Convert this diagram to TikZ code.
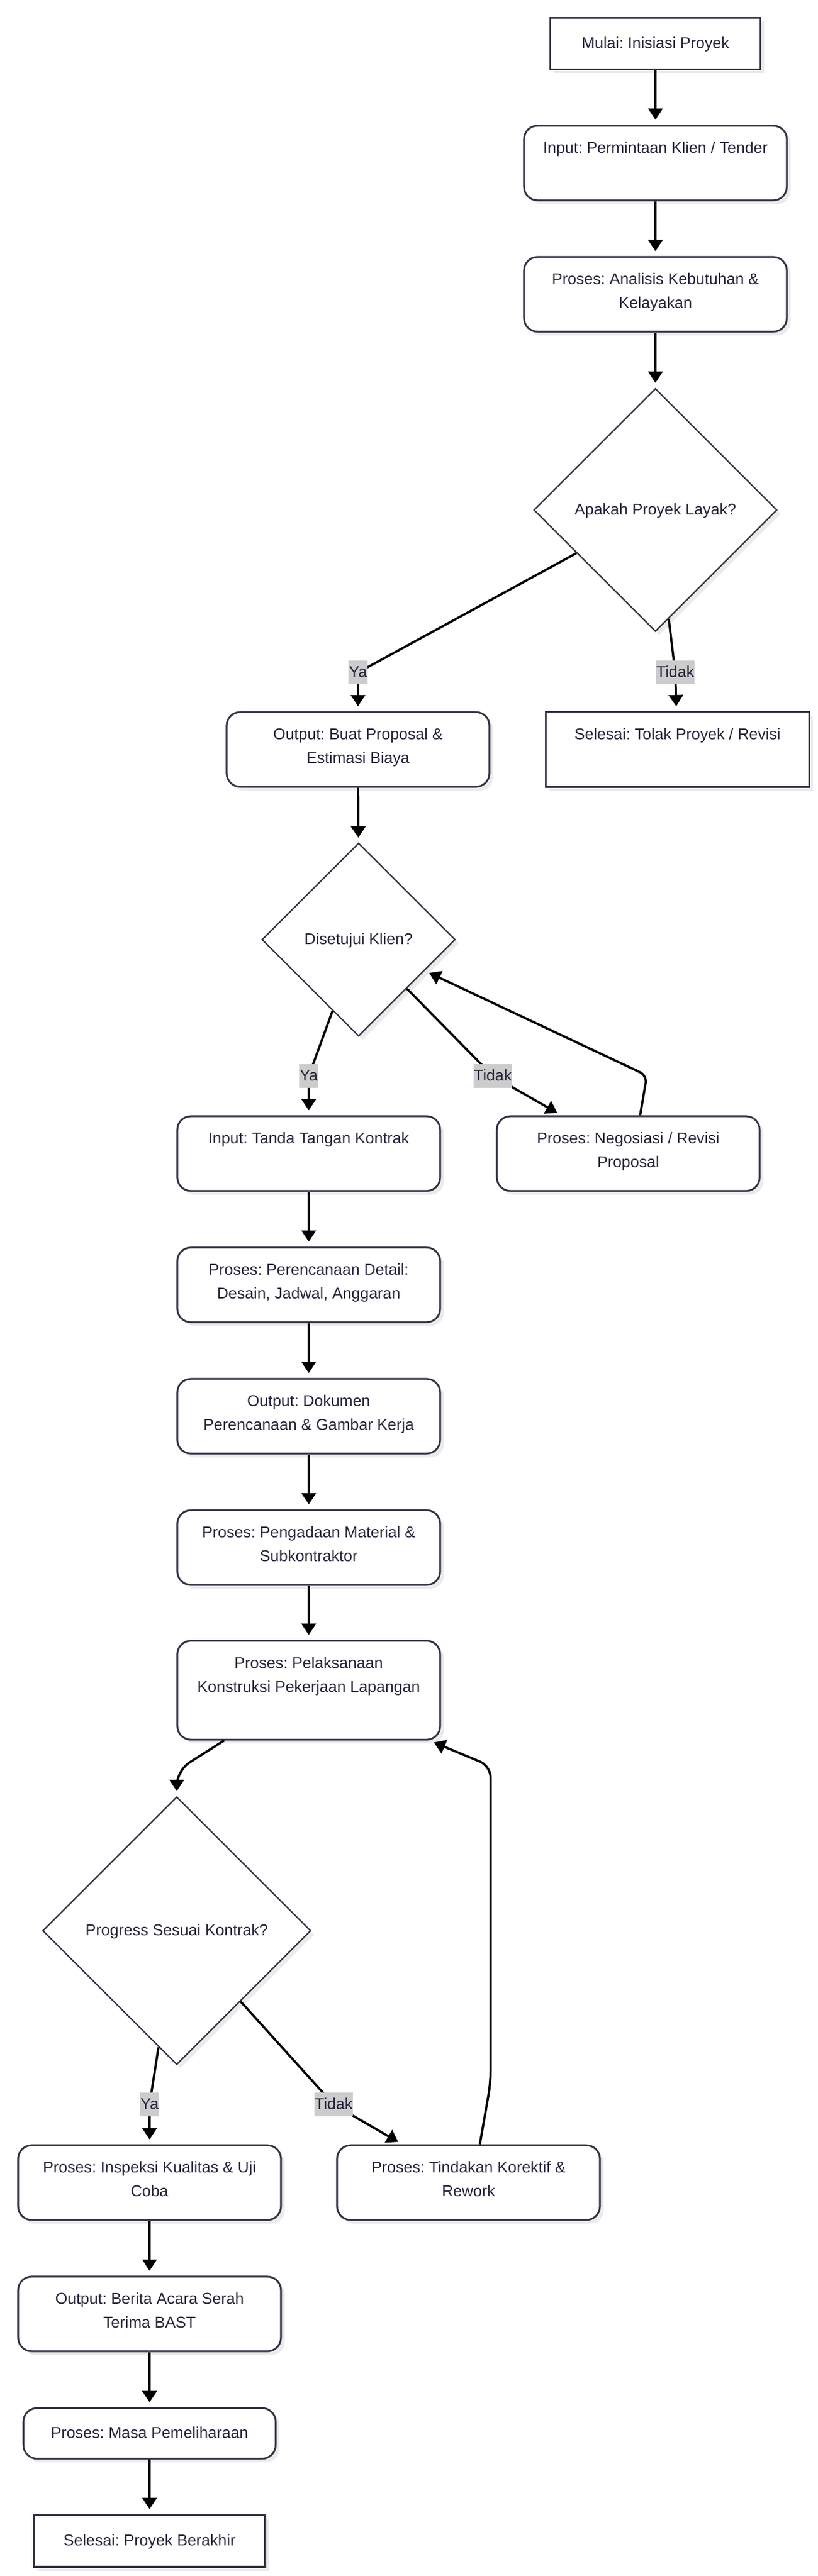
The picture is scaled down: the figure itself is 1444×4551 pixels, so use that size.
\documentclass[tikz,border=0pt]{standalone}
\usepackage{fontspec}
\setmainfont{Liberation Sans}
\usetikzlibrary{shapes.geometric,arrows.meta,shadows}
\definecolor{inkc}{RGB}{38,38,60}
\definecolor{edgec}{RGB}{51,51,70}
\definecolor{lblgray}{RGB}{204,204,204}
\frenchspacing

\begin{document}
\begin{tikzpicture}[x=0.75pt,y=0.75pt,yscale=-1,xscale=1,
    every node/.style={font=\fontsize{20.8pt}{31.5pt}\selectfont, text=inkc},
    boxshadow/.style={drop shadow={shadow xshift=5pt,shadow yshift=-5pt,fill=black!8,opacity=1}},
    termbox/.style={draw=edgec, line width=2.4pt, fill=white, align=center, inner sep=0pt,
        execute at begin node=\strut, execute at end node=\strut, boxshadow},
    procbox/.style={termbox, rounded corners=18pt, minimum width=348pt, minimum height=99pt},
    decide/.style={diamond, draw=edgec, line width=1.9pt, fill=white, inner sep=0pt,
        minimum width=#1, minimum height=#1, execute at begin node=\strut, boxshadow},
    lbl/.style={fill=lblgray, inner xsep=0.5pt, inner ysep=0pt, execute at begin node=\strut},
    arr/.style={draw=black, line width=3pt, -{Triangle[width=19pt,length=15pt]}, shorten >=6.5pt}]
        \useasboundingbox (0,0) rectangle (1444,4551);

        %Shape: top column
        \node[termbox, minimum width=278pt, minimum height=68pt] (start) at (1157,77) {Mulai: Inisiasi Proyek};
        \node[procbox] (input) at (1157,288) {Input: Permintaan Klien / Tender\\~};
        \node[procbox] (analisis) at (1157,520) {Proses: Analisis Kebutuhan \&\\Kelayakan};
        \node[decide=322pt] (layak) at (1157,901) {Apakah Proyek Layak?};
        \node[procbox] (proposal) at (632,1324) {Output: Buat Proposal \&\\Estimasi Biaya};
        \node[termbox, minimum width=349pt, minimum height=99pt] (tolak) at (1196,1324) {Selesai: Tolak Proyek / Revisi\\~};

        %Shape: approval loop
        \node[decide=256pt] (klien) at (633,1660) {Disetujui Klien?};
        \node[procbox] (kontrak) at (545,2038) {Input: Tanda Tangan Kontrak\\~};
        \node[procbox] (negosiasi) at (1109,2038) {Proses: Negosiasi / Revisi\\Proposal};
        \node[procbox] (perencanaan) at (545,2270) {Proses: Perencanaan Detail:\\Desain, Jadwal, Anggaran};
        \node[procbox] (dokumen) at (545,2502) {Output: Dokumen\\Perencanaan \& Gambar Kerja};
        \node[procbox] (pengadaan) at (545,2734) {Proses: Pengadaan Material \&\\Subkontraktor};
        \node[procbox, minimum height=131pt] (pelaksanaan) at (545,2986) {Proses: Pelaksanaan\\Konstruksi Pekerjaan Lapangan\\~};

        %Shape: progress loop
        \node[decide=355pt] (progress) at (312,3411) {Progress Sesuai Kontrak?};
        \node[procbox] (inspeksi) at (264,3856) {Proses: Inspeksi Kualitas \& Uji\\Coba};
        \node[procbox] (tindakan) at (827,3856) {Proses: Tindakan Korektif \&\\Rework};
        \node[procbox] (bast) at (264,4088) {Output: Berita Acara Serah\\Terima BAST};
        \node[procbox, minimum width=334pt, minimum height=67pt] (pelihara) at (264,4299) {Proses: Masa Pemeliharaan};
        \node[termbox, minimum width=306pt, minimum height=69pt] (selesai) at (264,4489) {Selesai: Proyek Berakhir};

        %label points and bends
        \coordinate (yaA) at (632,1188);
        \coordinate (tidakA) at (1192,1188);
        \coordinate (yaB) at (545,1901);
        \coordinate (tidakB) at (870,1901);
        \coordinate (yaC) at (264,3718);
        \coordinate (tidakC) at (589,3718);
        \coordinate (negbend) at (1142,1900);
        \coordinate (plbend) at (312,3128);
        \coordinate (tkbendA) at (866,3680);
        \coordinate (tkbendB) at (866,3120);

        %Connectors
        \draw[arr] (start) -- (input);
        \draw[arr] (input) -- (analisis);
        \draw[arr] (analisis) -- (layak);
        \draw[arr] (layak) -- (yaA) -- (proposal);
        \draw[arr] (layak) -- (tidakA) -- (tolak);
        \draw[arr] (proposal) -- (klien);
        \draw[arr] (klien) -- (yaB) -- (kontrak);
        \draw[arr] (klien) -- (tidakB) -- (negosiasi);
        \draw[arr, rounded corners=10pt] ([xshift=15.75pt]negosiasi.north) -- (negbend) -- (klien);
        \draw[arr] (kontrak) -- (perencanaan);
        \draw[arr] (perencanaan) -- (dokumen);
        \draw[arr] (dokumen) -- (pengadaan);
        \draw[arr] (pengadaan) -- (pelaksanaan);
        \draw[arr, rounded corners=20pt] ([xshift=-112pt]pelaksanaan.south) -- (plbend) -- (progress);
        \draw[arr] (progress) -- (yaC) -- (inspeksi);
        \draw[arr] (progress) -- (tidakC) -- (tindakan);
        \draw[arr, rounded corners=15pt] ([xshift=15pt]tindakan.north) -- (tkbendA) -- (tkbendB) -- (pelaksanaan);
        \draw[arr] (inspeksi) -- (bast);
        \draw[arr] (bast) -- (pelihara);
        \draw[arr] (pelihara) -- (selesai);

        %Edge labels
        \node[lbl] (yaAlbl) at (yaA) {Ya};
        \node[lbl] (tidakAlbl) at (tidakA) {Tidak};
        \node[lbl] (yaBlbl) at (yaB) {Ya};
        \node[lbl] (tidakBlbl) at (tidakB) {Tidak};
        \node[lbl] (yaClbl) at (yaC) {Ya};
        \node[lbl] (tidakClbl) at (tidakC) {Tidak};
    \end{tikzpicture}
\end{document}
